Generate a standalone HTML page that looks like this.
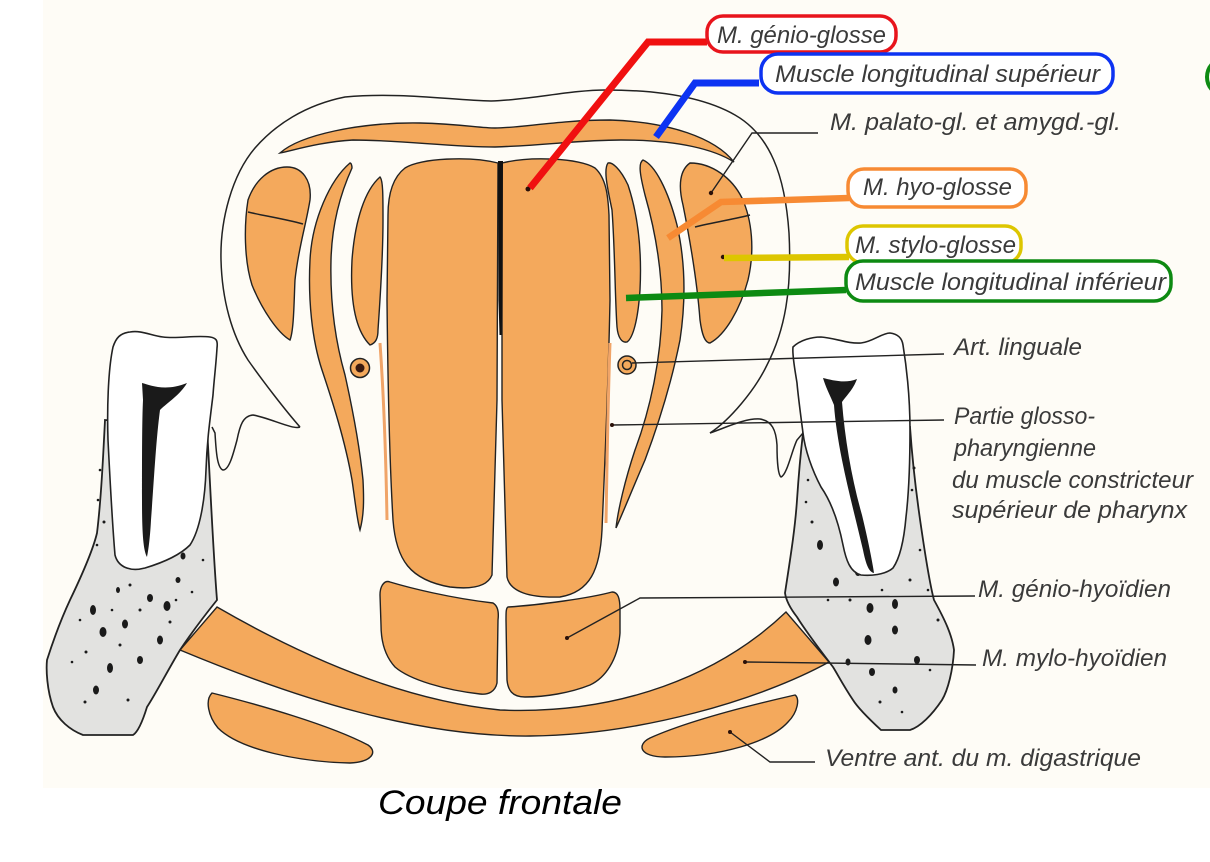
<!DOCTYPE html>
<html><head><meta charset="utf-8"><style>
html,body{margin:0;padding:0;background:#fff;}
svg{display:block;}
.t{font-family:"Liberation Sans",sans-serif;font-style:italic;font-size:24px;fill:#3a3a3a;}
.m{fill:#f4a95c;stroke:#222;stroke-width:1.4;}
.o{fill:none;stroke:#222;stroke-width:1.5;}
.ld{fill:none;stroke:#222;stroke-width:1.4;}
</style></head><body>
<svg width="1210" height="862" viewBox="0 0 1210 862" xmlns="http://www.w3.org/2000/svg">
<rect x="0" y="0" width="1210" height="862" fill="#fff"/>
<rect x="43" y="0" width="1167" height="788" fill="#fefcf6"/>

<!-- outer tongue outline -->
<path class="o" d="M 300,427 C 285,410 262,380 248,360 C 232,335 222,300 221,260 C 220,220 232,175 255,148 C 275,125 305,105 345,97 C 400,92 450,100 491,101 C 530,100 570,90 606,90 C 650,90 700,95 735,115 C 770,135 785,175 789,233 C 792,290 785,330 767,365 C 755,390 730,420 710,433"/>
<!-- gum hooks -->
<path class="o" d="M 300,427 C 293,430 270,418 253,415 C 243,416 240,425 237,440 C 233,455 229,470 223,470 C 217,468 216,450 215,433 L 212,427"/>
<path class="o" d="M 710,433 C 725,428 745,418 760,419 C 772,421 776,430 777,445 C 777,460 778,475 781,477 C 787,475 792,450 797,440 L 803,433"/>

<!-- top band (longitudinal sup.) -->
<path class="m" d="M 280,153 C 300,135 360,122 420,123 C 460,124 480,128 495,128 C 520,128 560,120 610,120 C 670,122 715,138 734,162 C 715,150 680,140 621,140 C 580,140 550,145 495,147 C 450,147 400,140 353,140 C 320,142 295,150 280,153 Z"/>

<!-- left lateral -->
<path class="m" d="M 287,167 C 270,167 255,180 248,200 C 244,225 244,260 252,285 C 262,310 278,333 290,340 C 294,330 294,300 295,280 C 298,250 306,225 310,200 C 312,180 302,167 287,167 Z"/>
<path class="o" d="M 248,212 C 265,216 285,219 303,224"/>
<!-- left long strip -->
<path class="m" d="M 350,163 C 330,180 312,220 310,260 C 308,300 312,340 322,370 C 332,400 345,440 352,480 C 355,500 357,520 360,530 C 364,515 364,500 363,480 C 360,450 355,420 345,375 C 335,340 330,300 331,260 C 332,220 342,190 352,168 C 352,165 351,163 350,163 Z"/>
<!-- left short strip -->
<path class="m" d="M 380,177 C 365,190 355,220 352,260 C 350,300 355,330 370,345 C 376,343 378,338 378,330 C 380,300 383,260 383,220 C 383,195 383,180 380,177 Z"/>

<!-- central genioglossus -->
<path class="m" d="M 498,163 C 470,156 420,158 405,168 C 392,178 388,195 388,215 L 387,300 C 388,400 390,470 393,520 C 396,560 410,580 450,587 C 475,590 488,585 492,575 L 497,400 Z"/>
<path class="m" d="M 502,163 C 530,156 580,158 595,168 C 606,178 608,195 609,215 L 610,300 C 608,400 604,480 602,530 C 600,570 590,592 560,597 C 530,598 510,592 507,577 L 502,400 Z"/>
<path d="M 499,162 L 502,162 L 501.5,300 L 500.5,335 L 499.5,300 Z" fill="#111" stroke="#111" stroke-width="2"/>

<!-- right strips -->
<path class="m" d="M 608,163 C 603,170 608,190 612,210 C 615,250 615,300 617,327 C 618,338 622,343 627,342 C 633,338 638,320 640,290 C 642,250 638,215 628,185 C 620,168 612,162 608,163 Z"/>
<path class="m" d="M 643,160 C 638,163 640,175 645,195 C 655,230 662,270 662,310 C 661,360 650,410 635,450 C 625,480 618,510 616,528 C 622,515 632,490 645,460 C 660,420 672,380 680,340 C 686,300 685,260 677,225 C 668,190 655,165 643,160 Z"/>
<path class="m" d="M 690,163 C 680,170 678,185 683,205 C 690,240 697,280 700,320 C 702,335 705,343 710,343 C 725,335 740,310 748,280 C 755,250 752,220 742,198 C 732,178 712,163 690,163 Z"/>
<path class="o" d="M 695,227 C 715,222 735,219 750,215"/>

<!-- thin glosso-pharyngeal lines -->
<path d="M 380,343 C 384,400 386,460 387,520" fill="none" stroke="#f0a468" stroke-width="3"/>
<path d="M 610,343 C 608,400 607,460 606,523" fill="none" stroke="#f0a468" stroke-width="3"/>

<!-- arteries -->
<circle cx="360" cy="368" r="9.5" fill="#f4a95c" stroke="#222" stroke-width="1.5"/>
<circle cx="360" cy="368" r="4.5" fill="#3a1a10"/>
<circle cx="627" cy="365" r="9" fill="#f4a95c" stroke="#222" stroke-width="1.5"/>
<circle cx="627" cy="365" r="4.5" fill="#f4a95c" stroke="#222" stroke-width="1.5"/>

<!-- genio-hyoid blocks -->
<path class="m" d="M 390,582 C 410,588 450,598 493,603 C 498,606 499,612 498,620 L 497,683 C 495,692 488,695 480,694 C 445,690 410,680 395,667 C 384,655 381,640 381,625 L 380,595 C 380,585 385,580 390,582 Z"/>
<path class="m" d="M 508,607 C 540,605 590,598 612,592 C 618,592 620,598 620,610 L 620,633 C 618,660 605,678 590,685 C 570,693 545,697 525,697 C 512,697 508,690 507,680 L 506,620 C 506,612 506,608 508,607 Z"/>

<!-- mylo-hyoid band -->
<path class="m" d="M 217,607 C 300,655 400,700 500,710 C 620,715 720,675 786,612 L 829,662 C 760,700 640,735 530,736 C 420,737 300,700 180,650 Z"/>

<!-- digastrics -->
<path class="m" d="M 212,693 C 260,705 330,725 368,745 C 378,752 372,762 350,763 C 300,762 240,750 218,728 C 208,716 205,700 212,693 Z"/>
<path class="m" d="M 795,695 C 760,703 690,720 650,738 C 636,745 640,757 665,757 C 720,757 770,742 788,722 C 798,712 800,698 795,695 Z"/>

<!-- left bone -->
<path d="M 105,420 L 207,427 C 210,480 213,550 217,600 C 205,615 190,635 180,650 C 168,670 155,695 147,707 C 143,720 138,732 133,735 L 83,735 C 70,730 58,720 53,707 C 47,690 46,670 47,660 C 55,635 63,615 70,600 C 82,575 93,550 97,533 C 101,500 103,460 105,420 Z" fill="#e2e2e0" stroke="#222" stroke-width="1.8"/>
<!-- right bone -->
<path d="M 803,433 L 910,427 C 913,470 917,500 922,533 C 926,560 930,585 934,600 C 945,620 952,635 954,650 C 953,670 948,690 942,700 C 932,715 920,727 910,730 L 881,730 C 868,718 858,708 853,700 C 843,685 838,675 833,667 C 820,650 805,630 797,617 C 790,608 786,600 785,593 C 790,560 795,530 797,500 C 799,470 801,450 803,433 Z" fill="#e2e2e0" stroke="#222" stroke-width="1.8"/>

<!-- stipple -->
<g fill="#1a1a1a">
<ellipse cx="93" cy="610" rx="3" ry="5"/><ellipse cx="103" cy="632" rx="3.5" ry="5"/><ellipse cx="125" cy="624" rx="3" ry="4.5"/>
<ellipse cx="150" cy="598" rx="3" ry="4"/><ellipse cx="167" cy="606" rx="3.5" ry="5"/><ellipse cx="110" cy="668" rx="3" ry="5"/>
<ellipse cx="96" cy="690" rx="3" ry="4.5"/><ellipse cx="140" cy="660" rx="3" ry="4"/><ellipse cx="160" cy="640" rx="3" ry="4.5"/>
<ellipse cx="183" cy="556" rx="2.5" ry="3.5"/><ellipse cx="178" cy="580" rx="2.5" ry="3"/><ellipse cx="118" cy="590" rx="2" ry="3"/>
<circle cx="100" cy="470" r="1.3"/><circle cx="98" cy="500" r="1.3"/><circle cx="104" cy="522" r="1.5"/><circle cx="97" cy="545" r="1.3"/>
<circle cx="196" cy="470" r="1.3"/><circle cx="198" cy="498" r="1.3"/><circle cx="190" cy="520" r="1.8"/><circle cx="130" cy="585" r="1.5"/>
<circle cx="170" cy="622" r="1.5"/><circle cx="120" cy="645" r="1.5"/><circle cx="86" cy="652" r="1.5"/><circle cx="72" cy="662" r="1.3"/>
<circle cx="85" cy="702" r="1.5"/><circle cx="128" cy="700" r="1.5"/><circle cx="176" cy="600" r="1.3"/><circle cx="192" cy="592" r="1.3"/>
<circle cx="203" cy="560" r="1.3"/><circle cx="140" cy="610" r="1.5"/><circle cx="112" cy="610" r="1.3"/><circle cx="80" cy="620" r="1.3"/>
<ellipse cx="820" cy="545" rx="3" ry="5"/><ellipse cx="836" cy="582" rx="3" ry="4.5"/><ellipse cx="858" cy="572" rx="3" ry="4"/>
<ellipse cx="888" cy="566" rx="3.5" ry="4.5"/><ellipse cx="870" cy="608" rx="3.5" ry="5"/><ellipse cx="895" cy="604" rx="3" ry="5"/>
<ellipse cx="868" cy="640" rx="3.5" ry="5"/><ellipse cx="895" cy="630" rx="3" ry="4.5"/><ellipse cx="917" cy="660" rx="3" ry="4"/>
<ellipse cx="872" cy="672" rx="3" ry="4"/><ellipse cx="895" cy="690" rx="2.5" ry="3.5"/><ellipse cx="848" cy="662" rx="2.5" ry="3.5"/>
<circle cx="808" cy="480" r="1.3"/><circle cx="806" cy="502" r="1.3"/><circle cx="812" cy="522" r="1.5"/><circle cx="906" cy="505" r="1.5"/>
<circle cx="912" cy="490" r="1.3"/><circle cx="914" cy="468" r="1.5"/><circle cx="920" cy="550" r="1.3"/><circle cx="928" cy="590" r="1.3"/>
<circle cx="938" cy="620" r="1.5"/><circle cx="850" cy="600" r="1.5"/><circle cx="880" cy="702" r="1.5"/><circle cx="902" cy="712" r="1.3"/>
<circle cx="828" cy="600" r="1.3"/><circle cx="910" cy="580" r="1.5"/><circle cx="882" cy="590" r="1.3"/><circle cx="930" cy="670" r="1.3"/>
</g>

<!-- left tooth -->
<path d="M 113,347 C 116,338 120,333 130,332 C 142,330 152,336 163,337 C 178,339 195,335 210,337 C 216,338 218,340 217,348 C 216,365 214,380 213,395 C 210,420 207,440 206,470 C 205,500 200,530 190,545 C 180,555 165,562 145,568 C 130,572 118,567 115,555 C 112,520 110,480 108,440 C 107,410 108,370 113,347 Z" fill="#fff" stroke="#222" stroke-width="1.6"/>
<path d="M 142,383 C 150,385 165,392 187,383 C 180,395 168,402 160,410 C 156,440 154,480 151,520 C 150,540 148,552 147,557 C 143,550 142,530 142,500 C 142,460 142,420 143,400 Z" fill="#1a1a1a"/>
<!-- right tooth -->
<path d="M 793,347 C 800,340 812,337 821,337 C 835,338 848,344 861,343 C 872,342 882,333 890,333 C 898,334 902,338 903,345 C 907,370 910,400 910,430 C 910,470 908,500 906,517 C 904,540 900,558 893,568 C 885,575 870,576 861,575 C 850,572 846,560 843,545 C 838,520 830,500 821,487 C 812,470 805,450 803,433 C 800,410 798,395 797,383 C 795,370 792,355 793,347 Z" fill="#fff" stroke="#222" stroke-width="1.6"/>
<path d="M 823,378 C 832,380 845,384 857,379 C 853,390 846,396 842,402 C 845,440 852,480 862,515 C 868,540 872,560 874,573 C 869,572 866,565 863,550 C 856,520 848,490 842,460 C 838,440 835,420 834,405 C 830,395 826,388 823,378 Z" fill="#1a1a1a"/>

<!-- black leader lines -->
<polyline class="ld" points="711,193 752,133 818,133"/>
<polyline class="ld" points="632,363 944,354"/>
<polyline class="ld" points="612,425 944,420"/>
<polyline class="ld" points="567,638 640,598 975,596"/>
<polyline class="ld" points="745,662 976,665"/>
<polyline class="ld" points="730,732 770,762 815,762"/>
<g fill="#2a1008">
<circle cx="711" cy="193" r="2.2"/><circle cx="723" cy="257" r="2.2"/><circle cx="612" cy="425" r="2"/>
<circle cx="567" cy="638" r="2"/><circle cx="745" cy="662" r="2"/><circle cx="730" cy="732" r="2"/><circle cx="528" cy="189" r="2.5"/>
</g>

<!-- colored leader lines -->
<polyline points="707,42 648,42 530,188" fill="none" stroke="#f01010" stroke-width="7"/>
<polyline points="759,83 695,83 656,137" fill="none" stroke="#0d33f2" stroke-width="7"/>
<polyline points="849,198 721,202 668,238" fill="none" stroke="#f78a33" stroke-width="6.5"/>
<polyline points="849,257 724,258" fill="none" stroke="#ddc600" stroke-width="6.5"/>
<polyline points="846,290 626,298" fill="none" stroke="#0d8a12" stroke-width="6.5"/>

<!-- boxes -->
<rect x="707" y="16" width="189" height="36" rx="16" fill="#fff" stroke="#e8141c" stroke-width="3.5"/>
<rect x="761" y="54" width="352" height="39" rx="17" fill="#fff" stroke="#0d33f2" stroke-width="3.5"/>
<rect x="848" y="169" width="178" height="38" rx="16" fill="#fff" stroke="#f78a33" stroke-width="3.5"/>
<rect x="847" y="226" width="174" height="37" rx="16" fill="#fff" stroke="#ddc600" stroke-width="3.5"/>
<rect x="846" y="261" width="325" height="40" rx="17" fill="#fff" stroke="#0d8a12" stroke-width="3.5"/>
<circle cx="1226" cy="77" r="19" fill="none" stroke="#0d8a12" stroke-width="4"/>

<!-- labels -->
<text class="t" x="717" y="43" textLength="169" lengthAdjust="spacingAndGlyphs">M. génio-glosse</text>
<text class="t" x="775" y="82" textLength="325" lengthAdjust="spacingAndGlyphs">Muscle longitudinal supérieur</text>
<text class="t" x="830" y="130" textLength="291" lengthAdjust="spacingAndGlyphs">M. palato-gl. et amygd.-gl.</text>
<text class="t" x="863" y="195" textLength="149" lengthAdjust="spacingAndGlyphs">M. hyo-glosse</text>
<text class="t" x="855" y="253" textLength="161" lengthAdjust="spacingAndGlyphs">M. stylo-glosse</text>
<text class="t" x="855" y="290" textLength="311" lengthAdjust="spacingAndGlyphs">Muscle longitudinal inférieur</text>
<text class="t" x="954" y="355" textLength="128" lengthAdjust="spacingAndGlyphs">Art. linguale</text>
<text class="t" x="954" y="424" textLength="141" lengthAdjust="spacingAndGlyphs">Partie glosso-</text>
<text class="t" x="954" y="456" textLength="142" lengthAdjust="spacingAndGlyphs">pharyngienne</text>
<text class="t" x="952" y="488" textLength="241" lengthAdjust="spacingAndGlyphs">du muscle constricteur</text>
<text class="t" x="952" y="518" textLength="235" lengthAdjust="spacingAndGlyphs">supérieur de pharynx</text>
<text class="t" x="978" y="597" textLength="193" lengthAdjust="spacingAndGlyphs">M. génio-hyoïdien</text>
<text class="t" x="982" y="666" textLength="185" lengthAdjust="spacingAndGlyphs">M. mylo-hyoïdien</text>
<text class="t" x="825" y="766" textLength="316" lengthAdjust="spacingAndGlyphs">Ventre ant. du m. digastrique</text>
<text x="378" y="814" textLength="244" lengthAdjust="spacingAndGlyphs" style="font-family:'Liberation Sans',sans-serif;font-style:italic;font-size:34px;fill:#000;">Coupe frontale</text>
</svg>
</body></html>
